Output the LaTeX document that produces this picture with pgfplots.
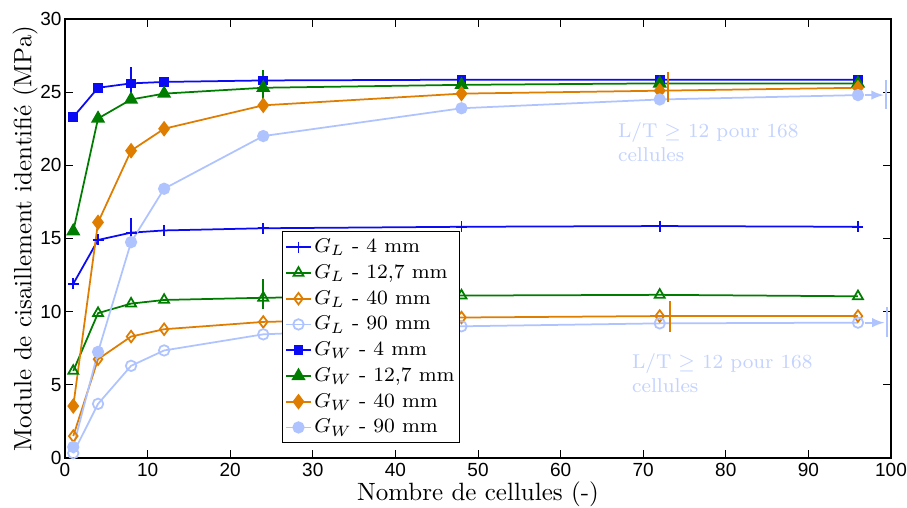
\documentclass[border=0pt]{standalone}
\usepackage{pgfplots}
\pgfplotsset{compat=1.18}
\usepackage{fontspec}
\newfontfamily\helv{Liberation Sans}
\definecolor{cB}{RGB}{10,10,245}
\definecolor{cG}{RGB}{0,125,0}
\definecolor{cO}{RGB}{222,125,0}
\definecolor{cL}{RGB}{175,195,255}
\definecolor{cT}{RGB}{195,210,255}
\begin{document}
\begin{tikzpicture}
\begin{axis}[
  name=ax,
  scale only axis,
  width=330.4pt, height=175.6pt,
  xmin=0, xmax=100, ymin=0, ymax=30,
  xtick={0,10,...,100}, ytick={0,5,...,30},
  tick align=inside, major tick length=3.2pt,
  tick style={black, line width=0.4pt},
  axis line style={line width=0.6pt},
  ticklabel style={font=\helv\fontsize{7.6}{9}\selectfont},
  xticklabel style={inner sep=2pt},
  yticklabel style={inner sep=1.2pt},
  /pgf/number format/assume math mode=true,
  xlabel={Nombre de cellules (-)},
  ylabel={Module de cisaillement identifié (MPa)},
  xlabel style={at={(axis description cs:0.5,-0.082)}, anchor=center},
  ylabel style={at={(axis description cs:-0.0484,0.5)}, anchor=center},
  every axis plot/.append style={line width=0.7pt},
  legend cell align=left,
  legend style={at={(axis cs:26.27,15.5)}, anchor=north west, draw=black, line width=0.5pt, font=\fontsize{8.1}{9.5}\selectfont, inner xsep=1pt, inner ysep=1pt, row sep=0pt,
    nodes={text height=6.3pt, text depth=2pt, inner sep=1pt}},
  legend image code/.code={\draw[mark repeat=2,mark phase=2] plot coordinates {(0pt,0pt)(5pt,0pt)(10pt,0pt)};},
  legend image post style={line width=0.7pt},
]
% G_L series
\addplot[cB, mark=+, mark size=2.2pt] coordinates {(1,11.9)(4,14.9)(8,15.4)(12,15.55)(24,15.7)(48,15.8)(72,15.85)(96,15.8)};
\addlegendentry{$G_L$ - 4 mm}
\addplot[cG, mark=triangle, mark size=2.3pt, mark options={fill=white, solid}] coordinates {(1,5.95)(4,9.9)(8,10.55)(12,10.8)(24,10.95)(48,11.1)(72,11.15)(96,11.05)};
\addlegendentry{$G_L$ - 12,7 mm}
\addplot[cO, mark=diamond, mark size=2.3pt, mark options={fill=white, solid}] coordinates {(1,1.5)(4,6.75)(8,8.3)(12,8.8)(24,9.3)(48,9.6)(72,9.7)(96,9.7)};
\addlegendentry{$G_L$ - 40 mm}
\addplot[cL, mark=o, mark size=2.1pt, mark options={fill=white, solid}] coordinates {(1,0.33)(4,3.7)(8,6.3)(12,7.35)(24,8.45)(48,9.0)(72,9.2)(96,9.25)};
\addlegendentry{$G_L$ - 90 mm}
% G_W series
\addplot[cB, mark=square*, mark size=1.6pt] coordinates {(1,23.3)(4,25.3)(8,25.6)(12,25.7)(24,25.8)(48,25.85)(72,25.85)(96,25.85)};
\addlegendentry{$G_W$ - 4 mm}
\addplot[cG, mark=triangle*, mark size=2.6pt] coordinates {(1,15.5)(4,23.2)(8,24.5)(12,24.9)(24,25.3)(48,25.5)(72,25.6)(96,25.6)};
\addlegendentry{$G_W$ - 12,7 mm}
\addplot[cO, mark=diamond*, mark size=2.6pt] coordinates {(1,3.55)(4,16.1)(8,21.0)(12,22.5)(24,24.1)(48,24.9)(72,25.1)(96,25.3)};
\addlegendentry{$G_W$ - 40 mm}
\addplot[cL, mark=*, mark size=2.1pt] coordinates {(1,0.75)(4,7.25)(8,14.75)(12,18.4)(24,22.0)(48,23.9)(72,24.5)(96,24.8)};
\addlegendentry{$G_W$ - 90 mm}
% markers L/T >= 12
\addplot[cB, forget plot] coordinates {(8,24.5)(8,26.7)};
\addplot[cB, forget plot] coordinates {(8,14.35)(8,16.4)};
\addplot[cG, forget plot] coordinates {(24,24.3)(24,26.5)};
\addplot[cG, forget plot] coordinates {(24,10.2)(24,12.2)};
\addplot[cO, forget plot] coordinates {(73,24.3)(73,26.4)};
\addplot[cO, forget plot] coordinates {(73.2,8.6)(73.2,10.7)};
\addplot[cL, forget plot] coordinates {(99.4,23.85)(99.4,25.8)};
\addplot[cL, forget plot] coordinates {(99.5,8.3)(99.5,10.3)};
\addplot[cL, -latex, forget plot] coordinates {(96.8,24.8)(99.1,24.8)};
\addplot[cL, -latex, forget plot] coordinates {(96.8,9.25)(99.2,9.25)};
\node[cT, anchor=north west, align=left, inner sep=0pt, font=\footnotesize] at (axis cs:66.9,22.95) {L/T $\geq$ 12 pour 168\\cellules};
\node[cT, anchor=north west, align=left, inner sep=0pt, font=\footnotesize] at (axis cs:68.6,7.15) {L/T $\geq$ 12 pour 168\\cellules};
\end{axis}
\pgfresetboundingbox
\path ([shift={(-26pt,-19.6pt)}]ax.south west) rectangle ([shift={(6.4pt,7.6pt)}]ax.north east);
\end{tikzpicture}
\end{document}
